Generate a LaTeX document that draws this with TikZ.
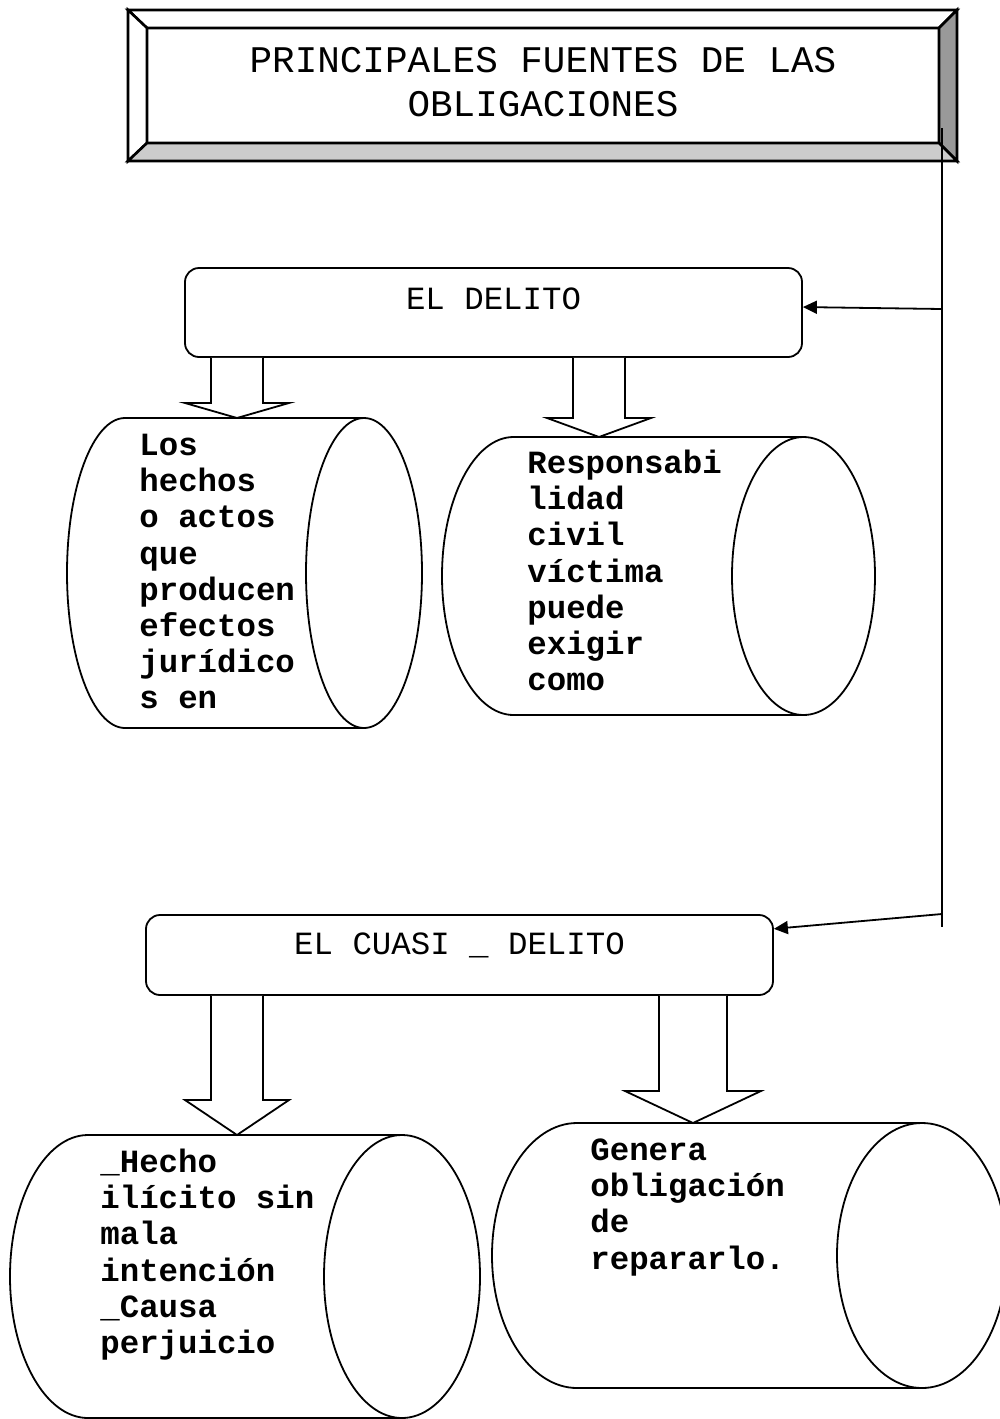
\documentclass[tikz,border=0pt]{standalone}
\usepackage{fontspec}
\usetikzlibrary{arrows.meta,calc}
\newfontfamily\courierlike{Liberation Mono}
\newcommand\titlefont{\courierlike\fontsize{18.8}{22}\selectfont}
\newcommand\boxfont{\courierlike\fontsize{16.2}{18}\selectfont}
\newcommand\canfont{\courierlike\bfseries\fontsize{16.2}{18.1}\selectfont}
\newcommand\firstline{\rule{0pt}{12pt}}
% hollow down arrow: box, tip, half shaft width, head length
\newcommand\hollowdown[4]{%
  \draw[blockarrow] ($(#1.south -| #2)+(-#3,0)$) -- ($(#2)+(-#3,-#4)$)
    -- ($(#2)+(-2*#3,-#4)$) -- (#2) -- ($(#2)+(2*#3,-#4)$)
    -- ($(#2)+(#3,-#4)$) -- ($(#1.south -| #2)+(#3,0)$);}
% lying cylinder round a node: node, x radius, y radius
\newcommand\canoutline[3]{%
  \draw[canline] ($(#1.north east)+(-#2,0)$) -- ($(#1.north west)+(#2,0)$)
    arc[start angle=270,end angle=90,x radius=#2,y radius=#3]
    -- ($(#1.south east)+(-#2,0)$);
  \draw[canline] ($(#1.east)+(-#2,0)$) ellipse[x radius=#2,y radius=#3];}

\begin{document}
\begin{tikzpicture}[x=0.5pt,y=-0.5pt,
  box/.style={draw,rounded corners=7pt,line width=0.9pt,inner sep=0pt,font=\boxfont},
  can/.style={inner sep=0pt,outer sep=0pt},
  canline/.style={line width=0.9pt},
  cantext/.style={font=\canfont,align=left,inner sep=0pt,anchor=north west},
  blockarrow/.style={draw,fill=white,line width=0.9pt,line join=miter},
  thinarrow/.style={-{Triangle[length=7pt,width=6.5pt]},line width=0.9pt}]
\useasboundingbox (0,0) rectangle (1000,1419);

% Title with bevel
\node[draw,line width=1.3pt,outer sep=0pt,minimum width=396pt,minimum height=57.5pt,
  inner sep=0pt,align=center,font=\titlefont] (title) at (543,85.5)
  {PRINCIPALES FUENTES DE LAS\\OBLIGACIONES\rule[-4pt]{0pt}{0pt}};
\coordinate (otl) at ($(title.north west)+(-19,-18)$);
\coordinate (otr) at ($(title.north east)+(18,-18)$);
\coordinate (obr) at ($(title.south east)+(18,18)$);
\coordinate (obl) at ($(title.south west)+(-19,18)$);
\filldraw[line width=1.3pt,fill=white] (otl) -- (otr) -- (title.north east) -- (title.north west) -- cycle;
\filldraw[line width=1.3pt,fill=white] (otl) -- (title.north west) -- (title.south west) -- (obl) -- cycle;
\filldraw[line width=1.3pt,fill=black!40] (otr) -- (obr) -- (title.south east) -- (title.north east) -- cycle;
\filldraw[line width=1.3pt,fill=black!20] (obl) -- (title.south west) -- (title.south east) -- (obr) -- cycle;

% Trunk line on the right
\coordinate (trunktop) at (942,128);
\coordinate (trunkend) at (942,927);
\coordinate (j1) at (942,309);
\coordinate (j2) at (942,914);
\draw[line width=0.9pt] (trunktop) -- (trunkend);

% El delito
\node[box,minimum width=308.5pt,text height=20.5pt,text depth=24pt] (delito) at (493.5,312.5) {EL DELITO};
\node[can,minimum width=177.5pt,minimum height=155pt] (canA) at (244.5,573) {};
\canoutline{canA}{58}{155}
\node[cantext] (txtA) at (139,431) {\firstline Los\\hechos\\o actos\\que\\producen\\efectos\\jurídico\\s en};
\node[can,minimum width=216.5pt,minimum height=139pt] (canB) at (658.5,576) {};
\canoutline{canB}{71.5}{139}
\node[cantext] (txtB) at (527,449) {\firstline Responsabi\\lidad\\civil\\víctima\\puede\\exigir\\como};

% El cuasi delito
\node[box,minimum width=313.5pt,text height=19.5pt,text depth=20.5pt] (cuasi) at (459.5,955) {EL CUASI \_ DELITO};
\node[can,minimum width=235pt,minimum height=141.5pt] (canC) at (245,1276.5) {};
\canoutline{canC}{78}{141.5}
\node[cantext] (txtC) at (100,1148) {\firstline\_Hecho\\ilícito sin\\mala\\intención\\\_Causa\\perjuicio};
\node[can,minimum width=257.5pt,minimum height=132.5pt] (canD) at (749.5,1255.5) {};
\canoutline{canD}{85}{132.5}
\node[cantext] (txtD) at (590,1136) {\firstline Genera\\obligación\\de\\repararlo.};

% Arrows
\draw[thinarrow] (j1) -- ($(delito.north east)!0.44!(delito.south east)$);
\draw[thinarrow] (j2) -- ($(cuasi.north east)!0.18!(cuasi.south east)$);
\coordinate (tipA) at (canA.north -| 237,0);
\coordinate (tipB) at (canB.north -| 599,0);
\coordinate (tipC) at (canC.north -| 237,0);
\coordinate (tipD) at (canD.north -| 693,0);
\hollowdown{delito}{tipA}{26}{15}
\hollowdown{delito}{tipB}{26}{19}
\hollowdown{cuasi}{tipC}{26}{35}
\hollowdown{cuasi}{tipD}{34}{32}
\end{tikzpicture}
\end{document}
